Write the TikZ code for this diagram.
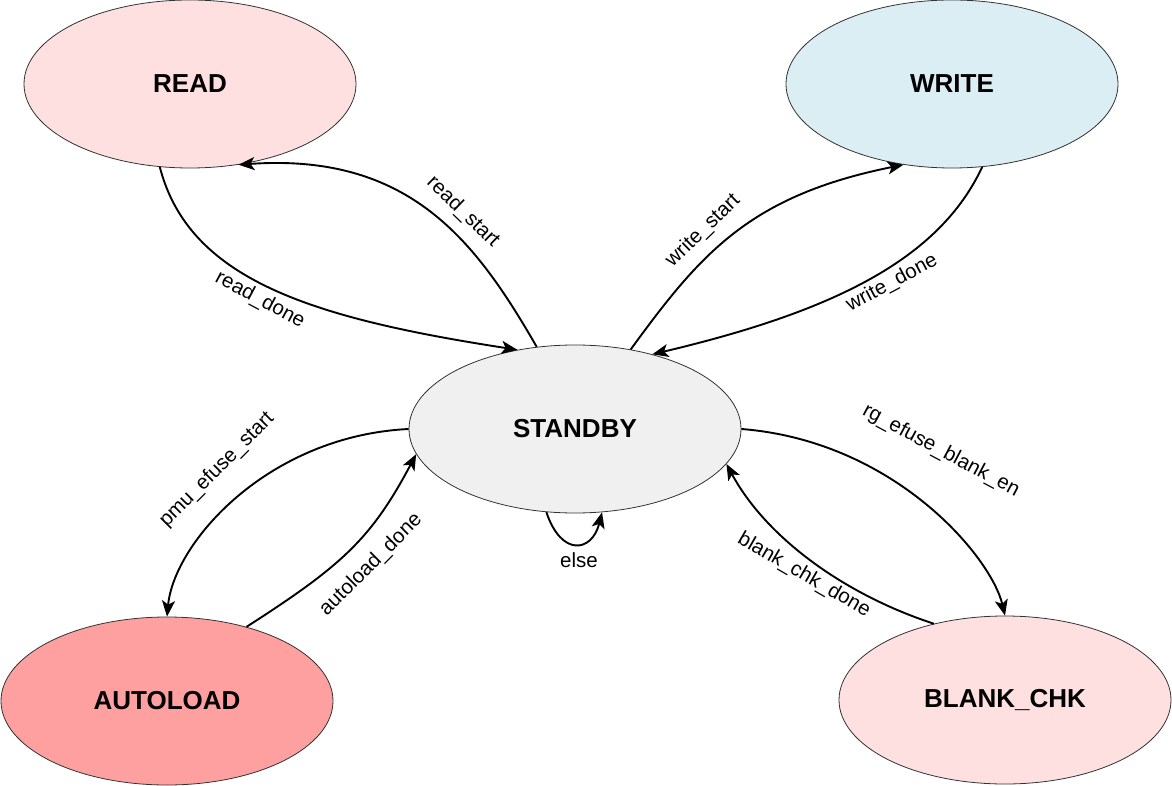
\documentclass[tikz,border=0pt]{standalone}
\usepackage{fontspec}
\setmainfont{Liberation Sans}
\usetikzlibrary{shapes.geometric,arrows.meta}
\definecolor{readfill}{HTML}{FFE0E1}
\definecolor{writefill}{HTML}{DAEEF3}
\definecolor{stbfill}{HTML}{F0F0F0}
\definecolor{autofill}{HTML}{FFA0A0}
\definecolor{blankfill}{HTML}{FFE0E1}
\definecolor{border}{HTML}{333333}
\begin{document}
\begin{tikzpicture}[x=1pt,y=-1pt,
  state/.style={ellipse, draw=border, line width=0.8pt, minimum width=332pt, minimum height=168pt, inner sep=0pt, font=\fontsize{26}{30}\selectfont\bfseries},
  trans/.style={line width=1.9pt, -{Stealth[length=16pt,width=13pt,inset=4pt]}},
  lbl/.style={font=\fontsize{20.5}{24}\selectfont, inner sep=0pt}]
\useasboundingbox (0,0) rectangle (1172,786);
\node[state, fill=readfill] (read) at (190,84) {READ};
\node[state, fill=writefill] (write) at (952,84) {WRITE};
\node[state, fill=stbfill] (std) at (575,429) {STANDBY};
\node[state, fill=autofill] (auto) at (167,701) {AUTOLOAD};
\node[state, fill=blankfill] (blank) at (1005,700) {BLANK\_CHK};

\draw[trans] (std.115) .. controls +(-61,-106) and +(171,-12) .. (read.-59);
\draw[trans] (read.-110) .. controls +(29,112) and +(-208,-32) .. (std.126);
\draw[trans] (std.55) .. controls +(70,-96) and +(-154,31) .. (write.-121);
\draw[trans] (write.-70) .. controls +(-43,92) and +(182,-43) .. (std.44);
\draw[trans] (std.180) .. controls +(-141,7) and +(7,-74) .. (auto.90);
\draw[trans] (auto.43) .. controls +(95,-61) and +(-45,85) .. (std.-171);
\draw[trans] (std.0) .. controls +(153,12) and +(-14,-59) .. (blank.90);
\draw[trans] (blank.133) .. controls +(-89,-29) and +(40,74) .. (std.-13);
\draw[trans] (std.-109) .. controls +(15,45) and +(-10,40) .. (std.-72);

\node[lbl, rotate=-44] (lrs) at (463,212) {read\_start};
\node[lbl, rotate=-28] (lrd) at (260,300) {read\_done};
\node[lbl, rotate=44] (lws) at (703,231) {write\_start};
\node[lbl, rotate=28] (lwd) at (892,283) {write\_done};
\node[lbl, rotate=45] (lps) at (217,470) {pmu\_efuse\_start};
\node[lbl, rotate=45] (lad) at (371,565) {autoload\_done};
\node[lbl, rotate=-28] (lrg) at (941,451) {rg\_efuse\_blank\_en};
\node[lbl, rotate=-30] (lbd) at (804,575) {blank\_chk\_done};
\node[lbl] (lel) at (579,560) {else};
\end{tikzpicture}
\end{document}
